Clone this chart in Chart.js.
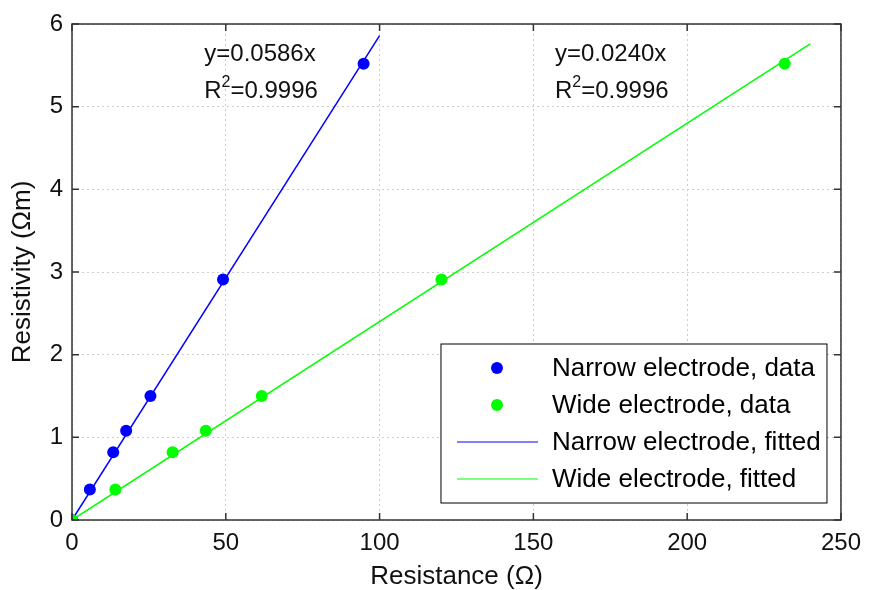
<!DOCTYPE html>
<html>
<head>
<meta charset="utf-8">
<script src="https://cdn.jsdelivr.net/npm/chart.js@4"></script>
<style>
  html, body { margin: 0; padding: 0; background: #fff; }
  #wrap { width: 870px; height: 590px; }
</style>
</head>
<body>
<div id="wrap"><canvas id="myChart" width="870" height="590"></canvas></div>
<script>
// measured points
var narrowR = [0, 5.8, 13.4, 17.6, 25.5, 49.1, 94.8];
var narrowRho = [0, 0.37, 0.82, 1.08, 1.50, 2.91, 5.52];
var wideR = [0, 14.1, 32.7, 43.5, 61.7, 120.1, 231.7];
var wideRho = [0, 0.37, 0.82, 1.08, 1.50, 2.91, 5.52];

// fitted slopes and the range each fit is drawn over
var narrowSlope = 0.0586;
var wideSlope = 0.0240;
var narrowFitR = [0, 100];
var wideFitR = [0, 240];
var r2Text = ['0.9996', '0.9996'];

var xTicks = [0, 50, 100, 150, 200, 250];
var yTicks = [0, 1, 2, 3, 4, 5, 6];

var legendLabels = ['Narrow electrode, data', 'Wide electrode, data', 'Narrow electrode, fitted', 'Wide electrode, fitted'];

var BLUE = '#0000ff', GREEN = '#00ff00';
var FONT = '"Liberation Sans", Arial, sans-serif';

function pts(xs, ys) {
  return xs.map(function(x, i){ return {x: x, y: ys[i]}; });
}
function fitPts(xs, k) {
  return xs.map(function(x){ return {x: x, y: k * x}; });
}

// box, inward ticks, equations and legend in MATLAB style
var decor = {
  id: 'decor',
  afterDatasetsDraw: function(chart) {
    var ctx = chart.ctx, a = chart.chartArea;
    var sx = chart.scales.x, sy = chart.scales.y;
    ctx.save();
    ctx.strokeStyle = '#333';
    ctx.lineWidth = 1.5;
    ctx.strokeRect(a.left, a.top, a.right - a.left, a.bottom - a.top);
    ctx.beginPath();
    xTicks.forEach(function(v){
      var px = sx.getPixelForValue(v);
      ctx.moveTo(px, a.bottom); ctx.lineTo(px, a.bottom - 7);
      ctx.moveTo(px, a.top); ctx.lineTo(px, a.top + 7);
    });
    yTicks.forEach(function(v){
      var py = sy.getPixelForValue(v);
      ctx.moveTo(a.left, py); ctx.lineTo(a.left + 7, py);
      ctx.moveTo(a.right, py); ctx.lineTo(a.right - 7, py);
    });
    ctx.stroke();

    // equations
    var notes = [
      {x: 43, y: 5.55, k: narrowSlope.toFixed(4), r2: r2Text[0]},
      {x: 157, y: 5.55, k: wideSlope.toFixed(4), r2: r2Text[1]}
    ];
    ctx.fillStyle = '#111';
    ctx.textBaseline = 'alphabetic';
    ctx.textAlign = 'left';
    notes.forEach(function(n){
      var px = sx.getPixelForValue(n.x), py = sy.getPixelForValue(n.y);
      ctx.font = '24px ' + FONT;
      ctx.fillText('y=' + n.k + 'x', px, py);
      var lx = px, ly = py + 37;
      ctx.fillText('R', lx, ly);
      lx += ctx.measureText('R').width;
      ctx.font = '16px ' + FONT;
      ctx.fillText('2', lx, ly - 11);
      lx += ctx.measureText('2').width;
      ctx.font = '24px ' + FONT;
      ctx.fillText('=' + n.r2, lx, ly);
    });

    // legend
    var bx = a.right - 400, by = a.bottom - 176, bw = 386, bh = 159;
    ctx.fillStyle = '#fff';
    ctx.fillRect(bx, by, bw, bh);
    ctx.strokeStyle = '#000';
    ctx.lineWidth = 1;
    ctx.strokeRect(bx, by, bw, bh);
    var colors = [BLUE, GREEN, BLUE, GREEN];
    ctx.font = '26px ' + FONT;
    ctx.textBaseline = 'middle';
    legendLabels.forEach(function(t, i){
      var ry = by + 24 + i * 37;
      if (i < 2) {
        ctx.fillStyle = colors[i];
        ctx.beginPath();
        ctx.arc(bx + 56, ry, 6, 0, Math.PI * 2);
        ctx.fill();
      } else {
        ctx.strokeStyle = colors[i];
        ctx.lineWidth = 1.2;
        ctx.beginPath();
        ctx.moveTo(bx + 16, ry); ctx.lineTo(bx + 97, ry);
        ctx.stroke();
      }
      ctx.fillStyle = '#000';
      ctx.fillText(t, bx + 111, ry + 1);
    });
    ctx.restore();
  }
};

var ctx = document.getElementById('myChart').getContext('2d');
var myChart = new Chart(ctx, {
  type: 'scatter',
  data: {
    datasets: [
      {label: legendLabels[0], data: pts(narrowR, narrowRho), backgroundColor: BLUE, borderColor: BLUE,
       pointRadius: 6, pointBorderWidth: 0, order: 2},
      {label: legendLabels[1], data: pts(wideR, wideRho), backgroundColor: GREEN, borderColor: GREEN,
       pointRadius: 6, pointBorderWidth: 0, order: 1},
      {type: 'line', label: legendLabels[2], data: fitPts(narrowFitR, narrowSlope), borderColor: BLUE,
       borderWidth: 1.5, pointRadius: 0, fill: false, order: 4},
      {type: 'line', label: legendLabels[3], data: fitPts(wideFitR, wideSlope), borderColor: GREEN,
       borderWidth: 1.5, pointRadius: 0, fill: false, order: 3}
    ]
  },
  options: {
    responsive: false,
    animation: false,
    layout: {padding: {top: 24, right: 23, left: 0, bottom: 0}},
    plugins: {legend: {display: false}, tooltip: {enabled: false}},
    scales: {
      x: {
        type: 'linear', min: 0, max: 250,
        afterBuildTicks: function(s){ s.ticks = xTicks.map(function(v){ return {value: v}; }); },
        afterFit: function(s){ s.height = 70; },
        grid: {color: '#cdcdcd', drawTicks: false, lineWidth: 1},
        border: {display: false, dash: [2, 3]},
        ticks: {color: '#111', padding: 9, maxRotation: 0, font: {family: FONT, size: 24}},
        title: {display: true, text: 'Resistance (\u03a9)', color: '#111', padding: {top: 0, bottom: 0},
                font: {family: FONT, size: 26, lineHeight: 1}}
      },
      y: {
        type: 'linear', min: 0, max: 6,
        afterBuildTicks: function(s){ s.ticks = yTicks.map(function(v){ return {value: v}; }); },
        afterFit: function(s){ s.width = 72; },
        grid: {color: '#cdcdcd', drawTicks: false, lineWidth: 1},
        border: {display: false, dash: [2, 3]},
        ticks: {color: '#111', padding: 9, font: {family: FONT, size: 24}},
        title: {display: true, text: 'Resistivity (\u03a9m)', color: '#111', padding: {top: 10, bottom: 0},
                font: {family: FONT, size: 26, lineHeight: 1}}
      }
    }
  },
  plugins: [decor]
});
</script>
</body>
</html>
